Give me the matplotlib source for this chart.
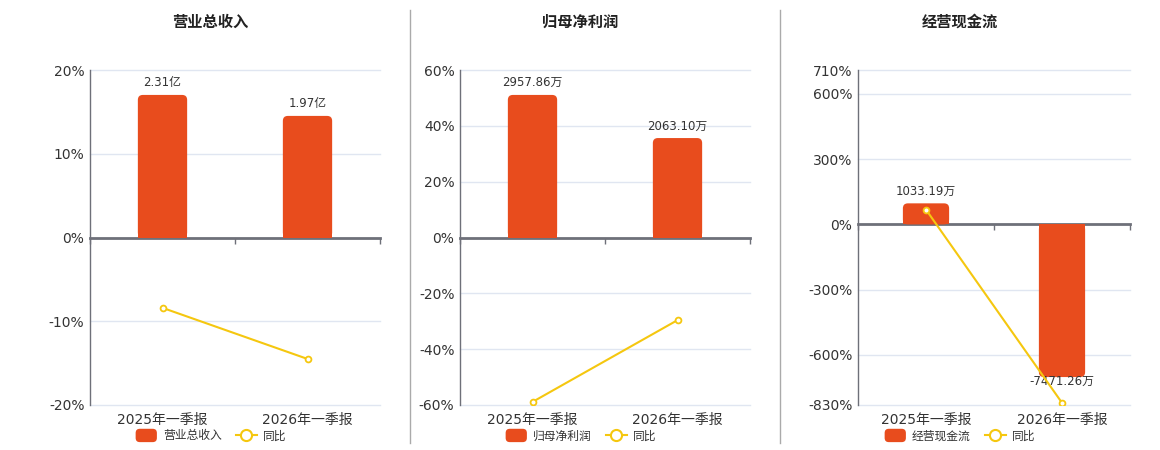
import matplotlib
matplotlib.use("Agg")
import matplotlib.pyplot as plt
from matplotlib.patches import FancyBboxPatch, Rectangle, Patch
from matplotlib.lines import Line2D
from matplotlib.legend_handler import HandlerPatch

plt.rcParams['font.family'] = ['DejaVu Sans', 'Noto Sans CJK SC']

# ---------------- data ----------------
categories = ['2025年一季报', '2026年一季报']

titles = ['营业总收入', '归母净利润', '经营现金流']

rev_values = [2.31, 1.97]            # 亿
rev_labels = ['2.31亿', '1.97亿']
rev_yoy = [-8.4, -14.5]              # %

np_values = [2957.86, 2063.10]       # 万
np_labels = ['2957.86万', '2063.10万']
np_yoy = [-58.9, -29.6]

cf_values = [1033.19, -7471.26]      # 万
cf_labels = ['1033.19万', '-7471.26万']
cf_yoy = [68.0, -820.0]

rev_ticks = [-20, -10, 0, 10, 20]
np_ticks = [-60, -40, -20, 0, 20, 40, 60]
cf_ticks = [-830, -600, -300, 0, 300, 600, 710]

# value-axis scale (bar units per 1 % on the left axis)
bar_scale = [2.31 / (143 / 168 * 20), 2957.86 / (143 / 168 * 60), 10.65]

# ---------------- style ----------------
BAR = '#E84C1D'
LINE = '#F5C70F'
AXIS = '#6E7079'
GRID = '#E0E6F1'
TXT = '#333333'


class RoundHandler(HandlerPatch):
    def create_artists(self, legend, orig_handle, xdescent, ydescent, width, height,
                       fontsize, trans):
        p = FancyBboxPatch((-xdescent, -ydescent - 1), width, height + 2,
                           boxstyle='round,pad=0,rounding_size=3',
                           fc=orig_handle.get_facecolor(), ec='none', transform=trans)
        return [p]


W, H = 1160, 450
fig = plt.figure(figsize=(W / 100, H / 100), dpi=100)

panels = [
    dict(title=titles[0], vals=rev_values, labels=rev_labels, yoy=rev_yoy, ticks=rev_ticks,
         left=90, right=380, tx=210, lx=211),
    dict(title=titles[1], vals=np_values, labels=np_labels, yoy=np_yoy, ticks=np_ticks,
         left=460, right=750, tx=580, lx=581),
    dict(title=titles[2], vals=cf_values, labels=cf_labels, yoy=cf_yoy, ticks=cf_ticks,
         left=858, right=1130, tx=960, lx=960),
]

top_px, bot_px = 70, 405

for i, p in enumerate(panels):
    ax = fig.add_axes([p['left'] / W, 1 - bot_px / H, (p['right'] - p['left']) / W,
                       (bot_px - top_px) / H])
    lo, hi = p['ticks'][0], p['ticks'][-1]
    ax.set_ylim(lo, hi)
    ax.set_xlim(-0.5, 1.5)
    ax.set_yticks(p['ticks'])
    ax.set_yticklabels([f'{t}%' for t in p['ticks']], fontsize=10, color=TXT)
    ax.tick_params(axis='y', length=0, pad=4)
    for t in p['ticks']:
        if t != 0:
            ax.axhline(t, color=GRID, lw=1.0, zorder=0, clip_on=False)
    for s in ['top', 'right']:
        ax.spines[s].set_visible(False)
    ax.spines['left'].set_color(AXIS)
    ax.spines['left'].set_linewidth(1.0)
    ax.spines['bottom'].set_position(('data', 0))
    ax.spines['bottom'].set_color(AXIS)
    ax.spines['bottom'].set_linewidth(2.0)
    ax.spines['bottom'].set_zorder(4)
    ax.set_xticks([-0.5, 0.5, 1.5])
    ax.set_xticklabels([])
    ax.tick_params(axis='x', length=4, color=AXIS, width=1, direction='out')

    sec = ax.secondary_xaxis('bottom')
    sec.set_xticks([0, 1])
    sec.set_xticklabels(categories, fontsize=10, color=TXT)
    sec.tick_params(length=0, pad=6)
    sec.spines['bottom'].set_visible(False)

    # bars on a twin axis
    bx = ax.twinx()
    bx.set_ylim(lo * bar_scale[i], hi * bar_scale[i])
    bx.axis('off')
    bars = bx.bar([0, 1], p['vals'], width=0.34, color=BAR, zorder=2)
    fig.canvas.draw()
    bbox = bx.get_window_extent()
    ypp = (hi - lo) * bar_scale[i] / bbox.height
    xpp = 2.0 / bbox.width
    r = 5 * xpp
    for b in bars:
        x0, w = b.get_x(), b.get_width()
        y0, h = b.get_y(), b.get_height()
        b.set_visible(False)
        ybot, ytop = min(y0, y0 + h), max(y0, y0 + h)
        fb = FancyBboxPatch((x0, ybot), w, ytop - ybot,
                            boxstyle=f'round,pad=0,rounding_size={r}',
                            mutation_aspect=ypp / xpp, fc=BAR, ec='none', zorder=2)
        bx.add_patch(fb)
        half = (ytop - ybot) / 2
        if h >= 0:
            rect = Rectangle((x0, ybot), w, half, fc=BAR, ec='none', zorder=2)
        else:
            rect = Rectangle((x0, ytop - half), w, half, fc=BAR, ec='none', zorder=2)
        bx.add_patch(rect)
    for k, b in enumerate(bars):
        v = p['vals'][k]
        if v >= 0:
            bx.annotate(p['labels'][k], (b.get_x() + b.get_width() / 2, v),
                        xytext=(0, 4), textcoords='offset points', ha='center', va='bottom',
                        fontsize=8.5, color=TXT, zorder=6)
        else:
            bx.annotate(p['labels'][k], (b.get_x() + b.get_width() / 2, v),
                        xytext=(0, 1.5), textcoords='offset points', ha='center', va='top',
                        fontsize=8.5, color=TXT, zorder=6)

    # yoy line on top
    lx = ax.twinx()
    lx.set_ylim(lo, hi)
    lx.axis('off')
    lx.plot([0, 1], p['yoy'], color=LINE, lw=1.5, marker='o', ms=4.2,
            mfc='white', mec=LINE, mew=1.3, zorder=7)

    fig.text(p['tx'] / W, 1 - 22 / H, p['title'], ha='center', va='center',
             fontsize=11, fontweight='bold', color='#222222',
             family=['Noto Sans CJK SC', 'DejaVu Sans'])

    handles = [Patch(fc=BAR, ec='none'),
               Line2D([0], [0], color=LINE, lw=1.5, marker='o', ms=8, mfc='white',
                      mec=LINE, mew=1.5)]
    fig.legend(handles, [p['title'], '同比'], loc='center',
               bbox_to_anchor=(p['lx'] / W, 1 - 436 / H), ncol=2, frameon=False,
               handlelength=1.8, handleheight=1.0, columnspacing=1.2,
               handletextpad=0.5, prop={'family': ['Noto Sans CJK SC', 'DejaVu Sans'], 'size': 8.5},
               labelcolor=TXT, handler_map={Patch: RoundHandler()})

# separators
for xs in [410, 780]:
    fig.add_artist(Line2D([xs / W, xs / W], [1 - 443 / H, 1 - 10 / H],
                          color='#AAAAAA', lw=1.0))

fig.savefig('out.png', dpi=100, facecolor='white')
